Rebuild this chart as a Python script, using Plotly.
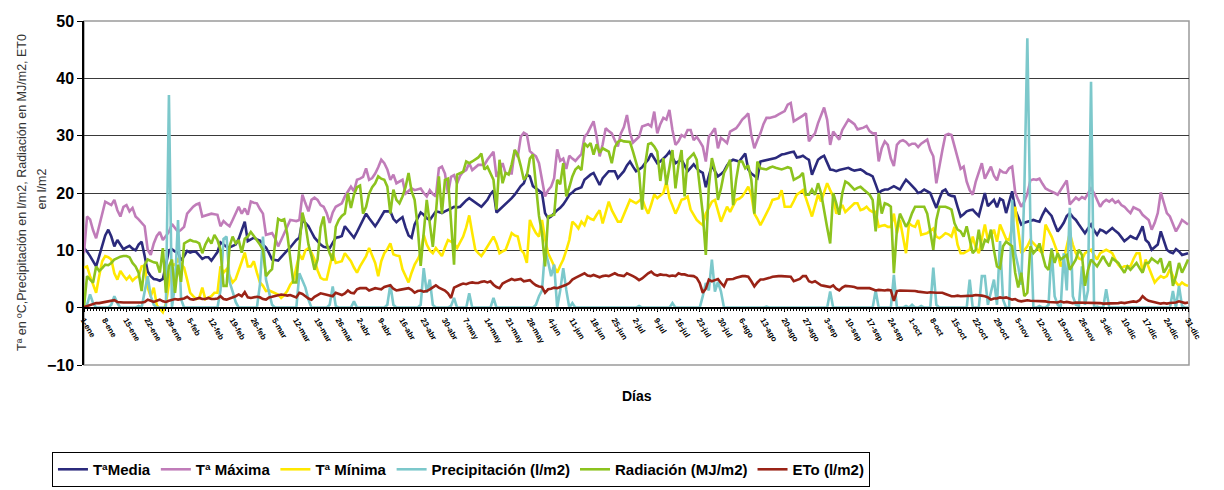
import plotly.graph_objects as go

# Daily series (day 0 = 1 January)
t_media = [
    10.4, 9.8, 9.0, 8.0, 7.2, 9.0, 11.0, 12.6, 13.6, 12.4,
    10.7, 11.8, 11.0, 10.2, 10.5, 10.8, 10.3, 10.0, 11.0, 11.5,
    9.0, 6.3, 5.5, 5.0, 4.9, 4.7, 5.0, 7.5, 10.0, 10.2,
    9.8, 9.7, 8.2, 9.0, 9.9, 9.6, 9.8, 9.7, 9.0, 8.5,
    8.8, 8.8, 8.2, 9.0, 9.7, 11.4, 11.0, 10.6, 10.5, 10.8,
    11.0, 12.0, 13.5, 15.0, 11.6, 11.9, 12.2, 11.9, 11.7, 11.0,
    10.5, 9.5, 8.4, 8.3, 8.2, 8.8, 9.5, 10.0, 10.5, 11.2,
    11.8, 12.2, 15.3, 14.8, 14.2, 13.2, 12.2, 11.6, 11.0, 10.6,
    10.5, 10.4, 11.3, 12.2, 12.3, 12.5, 14.2, 13.5, 12.8, 12.2,
    13.2, 14.2, 15.2, 16.4, 15.6, 14.9, 14.2, 15.0, 16.0, 16.8,
    16.8, 16.8, 15.5, 14.9, 15.4, 15.8, 14.0, 12.6, 12.2, 14.5,
    15.6, 16.6, 16.2, 15.6, 15.3, 16.0, 16.8, 16.7, 16.5, 16.8,
    17.0, 17.3, 17.6, 17.5, 17.6, 18.2, 18.7, 19.1, 18.7, 18.3,
    18.0, 17.6, 18.2, 18.8, 19.8, 20.4, 16.6, 17.1, 17.6, 18.0,
    18.5, 19.1, 19.7, 20.5, 21.2, 21.7, 23.2, 22.9, 21.2, 20.8,
    20.4, 20.0, 16.5, 15.6, 15.9, 16.5, 17.0, 17.4, 18.0, 18.8,
    19.7, 20.1, 20.6, 20.8, 21.0, 22.3, 22.8, 23.2, 23.5, 22.4,
    21.4, 22.6, 23.2, 23.8, 23.8, 23.8, 22.6, 23.2, 23.8, 24.8,
    25.5, 24.6, 23.8, 24.1, 24.5, 25.2, 25.8, 26.9, 26.0, 25.2,
    25.5, 26.0, 26.5, 27.2, 26.2, 25.2, 25.5, 25.8, 24.8, 23.8,
    24.4, 25.0, 24.3, 23.8, 23.5, 21.0, 23.0, 24.8, 23.8, 22.9,
    23.3, 23.8, 24.8, 25.5, 25.8, 25.6, 25.5, 26.2, 26.9, 24.1,
    23.4, 23.0, 22.6, 25.5, 25.6, 25.7, 25.8, 26.0, 26.1, 26.4,
    26.7, 26.8, 27.0, 27.1, 27.2, 26.2, 26.3, 26.5, 26.1, 25.8,
    23.2, 24.5, 25.8, 26.2, 26.5, 25.3, 24.1, 24.0, 23.8, 24.0,
    24.1, 24.3, 24.4, 24.1, 23.9, 24.0, 24.1, 23.8, 23.4, 23.2,
    22.9, 21.5, 20.0, 20.4, 20.6, 20.6, 20.9, 21.2, 20.9, 20.6,
    21.5, 22.3, 21.8, 21.3, 20.7, 20.0, 20.2, 20.6, 20.3, 20.0,
    18.7, 17.4, 19.0, 20.3, 20.6, 19.7, 19.5, 19.4, 17.6, 15.9,
    16.3, 16.8, 17.0, 17.1, 16.5, 16.0, 18.0, 20.0, 17.7, 18.3,
    18.8, 17.5, 19.0, 18.7, 16.5, 18.4, 20.3, 17.1, 15.8, 14.5,
    14.8, 15.0, 15.2, 15.3, 15.1, 15.0, 16.2, 17.2, 16.6, 16.0,
    14.6, 13.3, 14.0, 14.8, 16.0, 16.5, 15.8, 15.3, 14.5, 13.8,
    13.0, 13.8, 14.5, 13.5, 12.7, 13.6, 13.4, 13.0, 13.5, 13.9,
    13.4, 13.0, 12.3, 11.6, 12.0, 12.5, 12.2, 12.0, 13.0, 14.2,
    11.8, 11.3, 10.1, 10.5, 11.0, 13.3, 11.8, 10.1, 9.7, 9.5,
    10.2, 9.8, 9.2, 9.3, 9.5,
]

t_maxima = [
    9.5, 15.9, 15.4, 13.5, 12.1, 14.2, 16.5, 18.5, 18.2, 17.9,
    18.8, 17.0, 15.9, 17.6, 17.9, 16.8, 17.4, 15.9, 15.4, 14.8,
    14.2, 10.1, 9.2, 11.2, 12.5, 13.2, 11.8, 12.5, 13.2, 14.6,
    13.8, 13.2, 13.6, 14.1, 16.4, 17.0, 17.6, 18.0, 18.2, 15.9,
    16.1, 16.2, 16.4, 16.3, 16.2, 14.2, 15.1, 14.6, 14.2, 15.3,
    16.5, 17.6, 16.4, 17.3, 16.2, 18.5, 18.3, 18.2, 17.2, 16.4,
    12.7, 12.8, 13.0, 12.1, 10.7, 11.8, 13.0, 14.2, 15.3, 15.2,
    15.1, 15.3, 19.7, 18.2, 16.8, 18.8, 19.2, 18.8, 17.9, 17.6,
    16.5, 14.8, 16.6, 17.6, 17.9, 18.2, 19.4, 20.2, 21.1, 20.3,
    22.3, 22.5, 22.8, 24.3, 22.3, 22.6, 23.4, 24.5, 25.8, 25.2,
    24.1, 22.3, 23.2, 21.7, 22.0, 22.3, 19.9, 20.3, 20.8, 20.5,
    20.6, 20.8, 20.0, 19.4, 20.5, 19.8, 19.4, 24.3, 24.6, 23.4,
    19.9, 22.8, 23.1, 21.7, 23.0, 23.7, 24.0, 25.2, 24.0, 24.5,
    24.9, 24.9, 24.9, 25.8, 26.5, 27.2, 22.8, 24.0, 25.2, 23.4,
    23.4, 23.4, 27.5, 26.3, 29.8, 30.5, 30.2, 27.3, 26.8, 26.4,
    25.2, 22.5, 19.4, 20.5, 21.1, 22.6, 27.6, 25.6, 26.0, 24.2,
    26.5, 26.0, 25.6, 26.2, 26.8, 29.8, 30.4, 31.5, 32.5, 29.8,
    26.4, 28.5, 31.3, 30.8, 30.4, 29.2, 28.1, 30.4, 31.5, 33.6,
    30.5, 28.8, 29.3, 29.8, 31.6, 31.8, 32.0, 31.6, 34.2, 30.4,
    32.0, 33.1, 32.8, 34.5, 31.0, 28.4, 29.0, 30.1, 29.8, 31.0,
    31.0, 29.2, 29.8, 29.0, 28.1, 25.5, 29.8, 30.5, 31.3, 27.8,
    29.6, 29.2, 28.7, 30.7, 31.0, 31.3, 32.0, 32.8, 33.3, 33.9,
    30.1, 27.8, 29.2, 30.4, 32.0, 33.1, 33.1, 33.2, 33.4, 33.7,
    34.0, 34.3, 35.4, 35.7, 32.5, 32.8, 33.1, 33.5, 33.9, 29.0,
    29.8, 30.4, 32.2, 33.5, 34.9, 32.8, 28.4, 30.7, 30.0, 29.3,
    31.0, 31.9, 32.8, 32.4, 32.0, 31.1, 31.2, 31.4, 31.7, 30.8,
    30.4, 30.4, 25.5, 27.8, 29.0, 28.4, 26.0, 24.7, 28.4, 29.0,
    29.2, 28.9, 28.3, 28.6, 28.6, 28.0, 28.6, 29.0, 29.3, 27.5,
    26.4, 21.7, 25.0, 27.5, 30.1, 30.3, 30.1, 28.1, 26.0, 24.2,
    24.6, 22.0, 20.5, 19.7, 22.0, 23.5, 25.2, 22.5, 23.5, 24.6,
    23.0, 22.2, 24.0, 23.6, 23.5, 24.3, 24.6, 20.1, 18.8, 17.6,
    18.5, 19.8, 22.2, 22.4, 22.3, 22.5, 21.6, 20.8, 20.5, 20.3,
    20.0, 19.7, 20.5, 21.4, 22.2, 18.0, 18.6, 19.2, 18.8, 19.3,
    19.0, 19.8, 20.8, 20.0, 18.8, 17.6, 18.4, 18.8, 18.5, 18.9,
    18.3, 18.6, 17.9, 17.6, 17.0, 16.5, 17.5, 17.2, 17.0, 16.2,
    15.8, 15.3, 13.6, 14.8, 16.5, 20.1, 18.3, 16.5, 15.9, 14.5,
    13.3, 14.2, 15.3, 14.9, 14.5,
]

t_minima = [
    7.0, 7.2, 5.5, 4.2, 2.6, 5.5, 8.1, 9.0, 8.8, 8.4,
    6.0, 4.9, 6.4, 5.6, 4.9, 5.5, 4.7, 5.2, 5.5, 7.2,
    7.3, 3.5, 2.0, 3.5, 0.4, -0.2, -0.8, 0.7, 4.1, 7.6,
    7.4, 8.4, 7.6, 7.0, 4.9, 2.6, 2.0, 1.5, 1.7, 3.5,
    1.5, 1.8, 2.0, 2.6, 2.6, 7.2, 6.1, 6.7, 5.5, 4.4,
    5.0, 6.4, 8.0, 9.6, 7.2, 7.2, 8.1, 6.1, 4.4, 3.8,
    2.9, 3.0, 2.8, 2.5, 2.3, 1.7, 2.2, 2.9, 4.0, 4.7,
    7.0, 9.3, 8.4, 10.0, 10.4, 9.6, 8.4, 6.5, 5.2, 4.9,
    4.9, 7.2, 9.5, 7.8, 8.0, 8.1, 9.5, 8.8, 8.1, 7.0,
    6.1, 7.2, 8.0, 9.0, 10.4, 9.0, 7.8, 5.5, 8.1, 9.5,
    10.2, 11.2, 9.3, 9.1, 9.0, 6.7, 5.5, 4.4, 6.1, 7.5,
    8.4, 9.5, 12.7, 11.0, 10.0, 9.5, 10.4, 9.7, 9.0, 10.5,
    11.8, 11.5, 11.2, 10.4, 11.3, 12.4, 14.0, 16.1, 13.0, 10.1,
    9.5, 9.0, 9.8, 10.7, 11.6, 12.4, 11.2, 9.5, 9.8, 10.1,
    11.5, 13.0, 12.6, 12.4, 10.1, 9.5, 7.8, 15.3, 14.0, 13.0,
    12.4, 15.3, 12.0, 9.5, 8.4, 7.2, 6.1, 7.3, 8.4, 10.0,
    11.8, 15.0, 14.5, 13.8, 15.0, 14.4, 15.9, 15.5, 15.3, 16.2,
    17.0, 14.7, 16.5, 18.5, 17.0, 15.9, 15.0, 15.0, 16.2, 17.5,
    18.8, 18.5, 18.2, 18.6, 19.1, 17.5, 16.4, 18.0, 19.7, 19.1,
    19.5, 20.0, 22.0, 19.1, 17.8, 16.4, 17.5, 18.8, 19.0, 19.4,
    17.1, 16.2, 15.3, 14.8, 14.4, 16.4, 17.4, 18.5, 18.8, 16.8,
    15.0, 16.3, 17.6, 16.7, 17.8, 18.8, 19.0, 19.4, 20.2, 21.1,
    19.7, 16.4, 15.5, 14.4, 15.4, 16.4, 17.5, 18.8, 19.0, 19.1,
    20.5, 17.6, 17.6, 17.6, 18.6, 19.7, 20.1, 20.5, 19.1, 17.5,
    15.9, 17.8, 19.7, 18.5, 20.0, 21.7, 20.5, 19.4, 16.4, 17.2,
    17.9, 16.7, 17.2, 17.6, 18.2, 18.2, 17.0, 17.2, 17.6, 17.0,
    16.7, 16.7, 14.1, 14.3, 14.4, 14.1, 14.1, 16.4, 13.0, 15.3,
    12.0, 9.5, 14.7, 14.3, 14.1, 15.3, 12.7, 12.9, 13.0, 13.4,
    13.8, 12.4, 12.1, 12.5, 13.0, 12.8, 12.4, 14.1, 11.0, 9.5,
    9.5, 9.8, 10.1, 12.4, 10.5, 9.5, 11.8, 14.5, 11.8, 12.5,
    13.6, 11.5, 14.5, 13.3, 12.0, 11.8, 14.0, 17.6, 13.0, 9.5,
    10.0, 10.7, 11.8, 11.3, 10.7, 10.0, 9.5, 14.5, 13.5, 12.4,
    11.0, 9.5, 7.2, 8.5, 10.7, 13.0, 11.0, 9.5, 8.6, 8.4,
    9.5, 9.8, 10.1, 9.2, 8.4, 9.5, 9.8, 10.1, 9.8, 9.5,
    8.4, 7.5, 6.9, 7.2, 7.2, 7.2, 8.5, 9.5, 9.5, 6.1,
    8.4, 7.0, 5.5, 4.4, 5.0, 5.5, 5.2, 5.5, 6.7, 5.5,
    4.4, 3.8, 4.4, 4.0, 3.8,
]

precipitacion = [
    0, 0.5, 2.3, 0.8, 0, 0, 0, 0, 0, 0.5,
    2.0, 0.8, 0, 0, 0, 0, 0, 0, 0.3, 0,
    2.8, 5.5, 2.0, 0.5, 0, 0, 0, 0, 37.1, 0,
    4.0, 15.3, 1.5, 0, 0, 0, 0, 0, 0, 0,
    0, 0, 0, 0, 0, 3.0, 12.0, 12.4, 4.5, 2.8,
    1.0, 0, 0, 0, 0, 0, 0, 0, 4.0, 12.4,
    4.9, 2.6, 0.5, 0, 0, 0, 0, 0, 0, 0,
    0, 6.0, 4.9, 3.5, 1.4, 0, 0, 0, 0, 0,
    0, 0.5, 3.7, 0.3, 0, 0, 0, 0, 0, 1.1,
    0, 0, 0, 0, 0, 0, 0, 0, 0, 0,
    0.5, 4.0, 0.5, 0, 0, 0, 0, 0, 0, 0,
    0, 0.5, 6.9, 2.6, 4.9, 0.5, 0, 0, 0, 0,
    0, 0.3, 1.7, 0, 0, 0, 0, 2.5, 0, 0,
    0, 0, 0, 0, 0, 1.7, 0, 0, 0, 0,
    0, 0, 0, 0, 0, 0, 0, 0, 0, 0.5,
    2.0, 3.0, 10.1, 8.0, 5.5, 7.5, 0, 3.0, 6.9, 3.1,
    0, 0.8, 0, 0, 0, 0, 0, 0, 0, 0,
    0, 0, 0, 0, 0, 0, 0, 0, 0, 0,
    0, 0, 0, 0.3, 0, 0, 0, 0, 0, 0,
    0, 0, 0, 0, 0.8, 0, 0, 0, 0, 0,
    0, 0, 0, 0, 2.0, 4.3, 3.0, 8.4, 2.8, 4.5,
    2.8, 0, 0, 0, 0, 0, 0, 0, 0, 0,
    0, 0, 0, 0, 0, 0.2, 0, 0, 0, 0,
    0, 0, 0, 0, 0, 0, 0, 0, 0, 0,
    0, 0, 0, 0, 0, 0, 2.8, 0, 0, 0,
    0, 0, 0, 0, 0, 0, 0, 0, 0, 0,
    0, 3.0, 0, 0, 0, 0, 0, 5.7, 0, 0,
    0, 0.3, 0, 0.5, 0, 0, 0.3, 0, 0, 0,
    7.0, 0.5, 0, 0, 0, 0, 0, 0, 0, 0,
    0, 0, 4.9, 0, 0, 0, 5.5, 5.5, 0.5, 3.0,
    4.9, 0.5, 11.6, 1.4, 0, 0, 18.8, 9.5, 7.2, 4.0,
    20.0, 47.0, 15.0, 0, 0, 0.3, 0, 0, 0.5, 10.4,
    2.0, 0.5, 0, 9.5, 3.0, 17.4, 2.0, 0.5, 0.3, 7.2,
    0.5, 3.0, 39.4, 0, 0.2, 0, 0, 3.2, 0, 0,
    0, 0, 0, 0, 0, 0, 0, 0, 0, 0,
    0, 0, 0, 0, 0, 0, 0, 0, 0, 2.9,
    0, 3.8, 0.3, 0, 0,
]

radiacion = [
    0.2, 5.5, 4.9, 4.4, 7.2, 6.4, 6.9, 7.5, 7.4, 7.8,
    8.4, 8.7, 8.9, 9.0, 9.0, 8.8, 7.8, 7.2, 6.1, 2.9,
    7.5, 8.4, 8.1, 7.9, 7.8, 6.1, 10.4, 2.6, 7.2, 8.4,
    2.6, 7.5, 4.5, 11.2, 11.5, 11.8, 11.6, 11.5, 11.2, 9.5,
    11.0, 12.0, 11.2, 12.7, 11.8, 10.1, 3.8, 3.8, 10.7, 12.4,
    11.2, 11.8, 9.6, 12.0, 12.4, 13.2, 12.5, 11.8, 11.0, 10.1,
    5.5, 6.2, 6.7, 11.2, 15.5, 15.2, 15.4, 12.9, 9.0, 4.4,
    4.4, 10.5, 16.6, 14.5, 11.0, 9.0, 6.6, 8.4, 14.0, 15.9,
    11.2, 9.5, 8.2, 14.1, 15.3, 16.0, 16.4, 20.0, 17.4, 19.7,
    21.0, 21.3, 16.4, 17.6, 19.9, 21.0, 21.7, 22.9, 22.5, 22.3,
    21.1, 16.4, 20.6, 18.8, 18.2, 19.4, 21.0, 23.5, 20.3, 18.8,
    14.2, 7.3, 13.0, 18.8, 14.7, 10.6, 16.4, 22.9, 16.4, 22.3,
    22.5, 15.0, 7.5, 23.2, 23.5, 23.7, 25.5, 25.2, 25.5, 25.8,
    26.2, 26.9, 24.1, 24.6, 23.5, 22.3, 17.1, 25.8, 21.7, 23.5,
    23.2, 25.0, 27.5, 26.7, 24.7, 22.3, 23.0, 26.0, 26.7, 21.1,
    16.0, 13.0, 7.2, 15.9, 16.0, 16.2, 22.3, 21.5, 25.2, 19.4,
    21.0, 22.9, 24.1, 24.6, 24.0, 28.7, 28.1, 28.7, 26.7, 28.5,
    27.0, 27.8, 27.5, 27.2, 25.2, 28.0, 28.9, 29.2, 29.0, 28.9,
    28.9, 27.2, 25.2, 23.5, 17.1, 24.9, 28.5, 28.7, 28.1, 27.2,
    22.1, 26.1, 21.4, 24.3, 27.5, 20.8, 24.9, 27.5, 19.4, 25.8,
    26.3, 26.9, 25.8, 21.0, 16.4, 9.2, 21.1, 26.1, 24.0, 18.8,
    20.8, 23.5, 24.5, 25.8, 17.9, 22.3, 25.5, 25.5, 24.3, 24.8,
    22.3, 16.4, 25.5, 24.3, 24.2, 24.1, 24.4, 24.6, 24.4, 24.2,
    24.1, 24.3, 24.5, 24.3, 22.3, 22.6, 22.9, 23.5, 19.7, 19.7,
    20.6, 19.7, 21.7, 20.0, 16.7, 14.0, 11.2, 20.0, 18.2, 16.2,
    20.0, 22.0, 21.7, 21.1, 20.6, 20.9, 21.1, 20.6, 20.2, 19.7,
    18.8, 13.3, 20.0, 16.4, 18.2, 18.0, 17.6, 6.0, 13.6, 16.4,
    15.3, 14.1, 15.0, 16.5, 17.6, 17.6, 17.6, 17.6, 16.4, 13.0,
    10.1, 15.3, 17.6, 17.6, 17.6, 17.4, 17.1, 14.7, 13.6, 13.3,
    12.4, 14.2, 11.8, 9.5, 10.1, 13.6, 10.1, 11.8, 11.5, 13.6,
    10.0, 7.2, 6.9, 10.7, 11.5, 11.1, 10.7, 6.1, 3.5, 6.1,
    2.0, 2.6, 10.7, 9.5, 10.1, 11.2, 9.0, 7.2, 6.6, 10.1,
    7.8, 9.5, 8.4, 8.8, 9.2, 6.6, 7.5, 8.4, 10.1, 9.2,
    3.8, 6.6, 8.4, 7.8, 7.2, 8.1, 9.0, 8.0, 7.2, 8.6,
    8.2, 7.8, 6.9, 6.1, 7.2, 6.6, 7.2, 7.8, 6.9, 6.1,
    7.8, 7.8, 8.6, 8.2, 7.8, 8.6, 6.1, 7.0, 8.1, 3.8,
    5.5, 7.8, 6.1, 7.2, 8.4,
]

eto = [
    0.1, 0.3, 0.5, 0.6, 0.8, 0.8, 0.9, 0.9, 1.0, 1.1,
    1.3, 1.0, 0.9, 0.9, 0.9, 0.9, 0.9, 0.8, 0.9, 0.9,
    1.0, 1.4, 1.2, 1.0, 1.2, 1.4, 1.1, 1.0, 1.2, 1.4,
    1.5, 1.4, 1.5, 1.6, 1.9, 1.5, 1.4, 1.6, 1.7, 1.5,
    1.5, 1.7, 1.5, 1.5, 1.6, 2.0, 1.5, 1.4, 1.6, 1.7,
    2.0, 2.3, 2.0, 2.7, 1.8, 1.7, 1.8, 1.9, 1.8, 1.5,
    1.4, 1.8, 1.9, 2.0, 2.1, 2.3, 2.2, 2.1, 2.2, 2.0,
    1.8, 2.6, 2.4, 2.0, 1.6, 1.4, 1.9, 2.2, 2.5, 2.4,
    2.3, 2.1, 2.0, 2.6, 2.4, 2.2, 2.5, 3.0, 2.6, 2.5,
    3.2, 3.4, 3.4, 3.4, 3.0, 3.2, 3.4, 3.3, 3.2, 3.6,
    3.7, 3.9, 3.3, 3.0, 3.1, 3.2, 3.4, 3.4, 3.1, 2.6,
    2.9, 3.0, 2.8, 2.9, 3.2, 3.6, 3.9, 3.5, 3.2, 3.0,
    2.5, 1.7, 3.5, 3.8, 4.0, 4.2, 4.1, 4.3, 4.4, 4.3,
    4.3, 4.5, 4.6, 4.4, 4.6, 4.0, 3.6, 3.4, 4.2, 4.5,
    4.8, 5.0, 4.8, 4.9, 5.0, 4.6, 4.7, 4.8, 4.3, 3.9,
    3.7, 3.6, 2.6, 3.2, 3.3, 3.5, 3.4, 3.6, 3.7, 4.0,
    4.3, 4.9, 5.2, 5.5, 5.7, 6.0, 5.6, 5.5, 5.7, 5.5,
    5.3, 5.5, 5.6, 5.5, 5.8, 6.0, 5.7, 5.6, 5.5, 6.0,
    5.8, 5.5, 5.2, 4.8, 5.1, 5.6, 6.0, 6.3, 5.8, 5.6,
    5.8, 5.7, 5.7, 5.5, 5.6, 5.5, 6.0, 5.8, 5.8, 5.6,
    5.5, 5.5, 5.2, 4.3, 2.6, 3.3, 4.9, 4.6, 4.8, 5.0,
    4.3, 3.7, 4.9, 4.9, 5.0, 5.2, 5.4, 5.5, 5.5, 5.4,
    4.6, 3.7, 4.4, 4.9, 4.9, 5.0, 5.2, 5.4, 5.5, 5.5,
    5.5, 5.5, 5.5, 5.4, 4.6, 4.8, 5.0, 5.5, 5.5, 4.6,
    4.4, 4.6, 4.2, 3.9, 3.8, 3.7, 3.6, 3.9, 3.3, 3.0,
    3.5, 3.8, 3.8, 3.7, 3.6, 3.4, 3.4, 3.4, 3.5, 3.4,
    3.2, 3.0, 3.1, 3.0, 3.0, 3.1, 3.0, 1.2, 2.9, 3.0,
    3.0, 2.9, 3.0, 3.0, 2.9, 2.8, 2.7, 2.6, 2.6, 2.7,
    2.6, 2.6, 2.6, 2.6, 2.4, 2.2, 2.0, 2.0, 2.1, 2.0,
    2.0, 2.0, 2.0, 2.1, 2.2, 2.2, 2.1, 2.0, 1.8, 1.4,
    1.6, 1.6, 1.8, 1.7, 1.8, 1.6, 1.4, 1.5, 1.2, 1.1,
    1.2, 1.3, 1.2, 1.2, 1.1, 1.2, 1.2, 1.1, 1.0, 1.0,
    1.0, 0.9, 1.1, 0.9, 1.0, 0.9, 0.8, 0.9, 0.9, 0.8,
    0.8, 0.8, 0.8, 0.8, 0.9, 0.8, 0.7, 0.7, 0.8, 0.8,
    0.8, 0.8, 0.9, 0.8, 0.9, 1.0, 1.1, 1.0, 1.3, 2.0,
    1.5, 1.2, 1.1, 1.0, 0.8, 0.7, 0.8, 0.7, 0.8, 0.8,
    0.9, 1.1, 1.0, 0.8, 0.9,
]

# Weekly date labels along the category axis
tick_days = list(range(0, 365, 7))
tick_labels = [
    "1-ene", "8-ene", "15-ene", "22-ene", "29-ene", "5-feb", "12-feb", "19-feb",
    "26-feb", "5-mar", "12-mar", "19-mar", "26-mar", "2-abr", "9-abr", "16-abr",
    "23-abr", "30-abr", "7-may", "14-may", "21-may", "28-may", "4-jun", "11-jun",
    "18-jun", "25-jun", "2-jul", "9-jul", "16-jul", "23-jul", "30-jul", "6-ago",
    "13-ago", "20-ago", "27-ago", "3-sep", "10-sep", "17-sep", "24-sep", "1-oct",
    "8-oct", "15-oct", "22-oct", "29-oct", "5-nov", "12-nov", "19-nov", "26-nov",
    "3-dic", "10-dic", "17-dic", "24-dic", "31-dic",
]

days = list(range(len(t_media)))

series = [
    ("TªMedia", t_media, "#2B2A7C"),
    ("Tª Máxima", t_maxima, "#C07CB9"),
    ("Tª Mínima", t_minima, "#FFE800"),
    ("Precipitación (l/m2)", precipitacion, "#7CC8CB"),
    ("Radiación (MJ/m2)", radiacion, "#8CC31E"),
    ("ETo (l/m2)", eto, "#9A2316"),
]

fig = go.Figure()
for name, values, color in series:
    fig.add_trace(go.Scatter(
        x=days, y=values, name=name, mode="lines",
        line=dict(color=color, width=2.6),
        hoverinfo="skip",
    ))

FONT = "Liberation Sans, Arial, sans-serif"

fig.update_layout(
    width=1224, height=490,
    margin=dict(l=84, r=35, t=21, b=125, autoexpand=False),
    paper_bgcolor="white", plot_bgcolor="white",
    font=dict(family=FONT, color="black"),
    showlegend=True,
    legend=dict(
        orientation="h", x=-0.029, y=-0.2530, xanchor="left", yanchor="top",
        bordercolor="black", borderwidth=1,
        font=dict(family=FONT, size=15, color="black", weight="bold"),
        itemwidth=30, tracegroupgap=0,
    ),
    xaxis=dict(
        range=[0, 364.3], anchor="free", position=10 / 60,
        showgrid=False, zeroline=False,
        showline=True, linecolor="black", linewidth=1.5,
        tickmode="array", tickvals=tick_days, ticktext=tick_labels,
        ticks="outside", ticklen=4, tickcolor="black", tickwidth=1,
        tickangle=60,
        tickfont=dict(family=FONT, size=8, color="black", weight="bold"),
        minor=dict(dtick=1, tick0=0, ticks="outside", ticklen=3,
                   tickcolor="black", tickwidth=1),
    ),
    yaxis=dict(
        range=[-10, 50], tickmode="linear", tick0=-10, dtick=10,
        showgrid=True, gridcolor="#3a3a3a", gridwidth=1,
        zeroline=False,
        showline=True, linecolor="black", linewidth=1.5,
        ticks="outside", ticklen=5, tickcolor="black",
        tickfont=dict(family=FONT, size=16, color="black", weight="bold"),
    ),
    shapes=[
        dict(type="rect", xref="paper", yref="paper", x0=0, y0=0, x1=1, y1=1,
             line=dict(color="#9a9a9a", width=1.5), layer="below"),
    ],
    annotations=[
        dict(text="Tª en ºC,Precipitación en l/m2, Radiación en MJ/m2, ET0",
             xref="paper", yref="paper", x=(22 - 84) / 1105, y=0.5,
             xanchor="center", yanchor="middle", textangle=-90, showarrow=False,
             font=dict(family=FONT, size=12.5, color="#333333")),
        dict(text="en l/m2",
             xref="paper", yref="paper", x=(42 - 84) / 1105, y=0.51,
             xanchor="center", yanchor="middle", textangle=-90, showarrow=False,
             font=dict(family=FONT, size=12.5, color="#333333")),
        dict(text="<b>Días</b>", xref="paper", yref="paper",
             x=0.5, y=(365 - 396) / 344, xanchor="center", yanchor="middle",
             showarrow=False, font=dict(family=FONT, size=14, color="black")),
    ],
)

fig.write_html("out.html")
